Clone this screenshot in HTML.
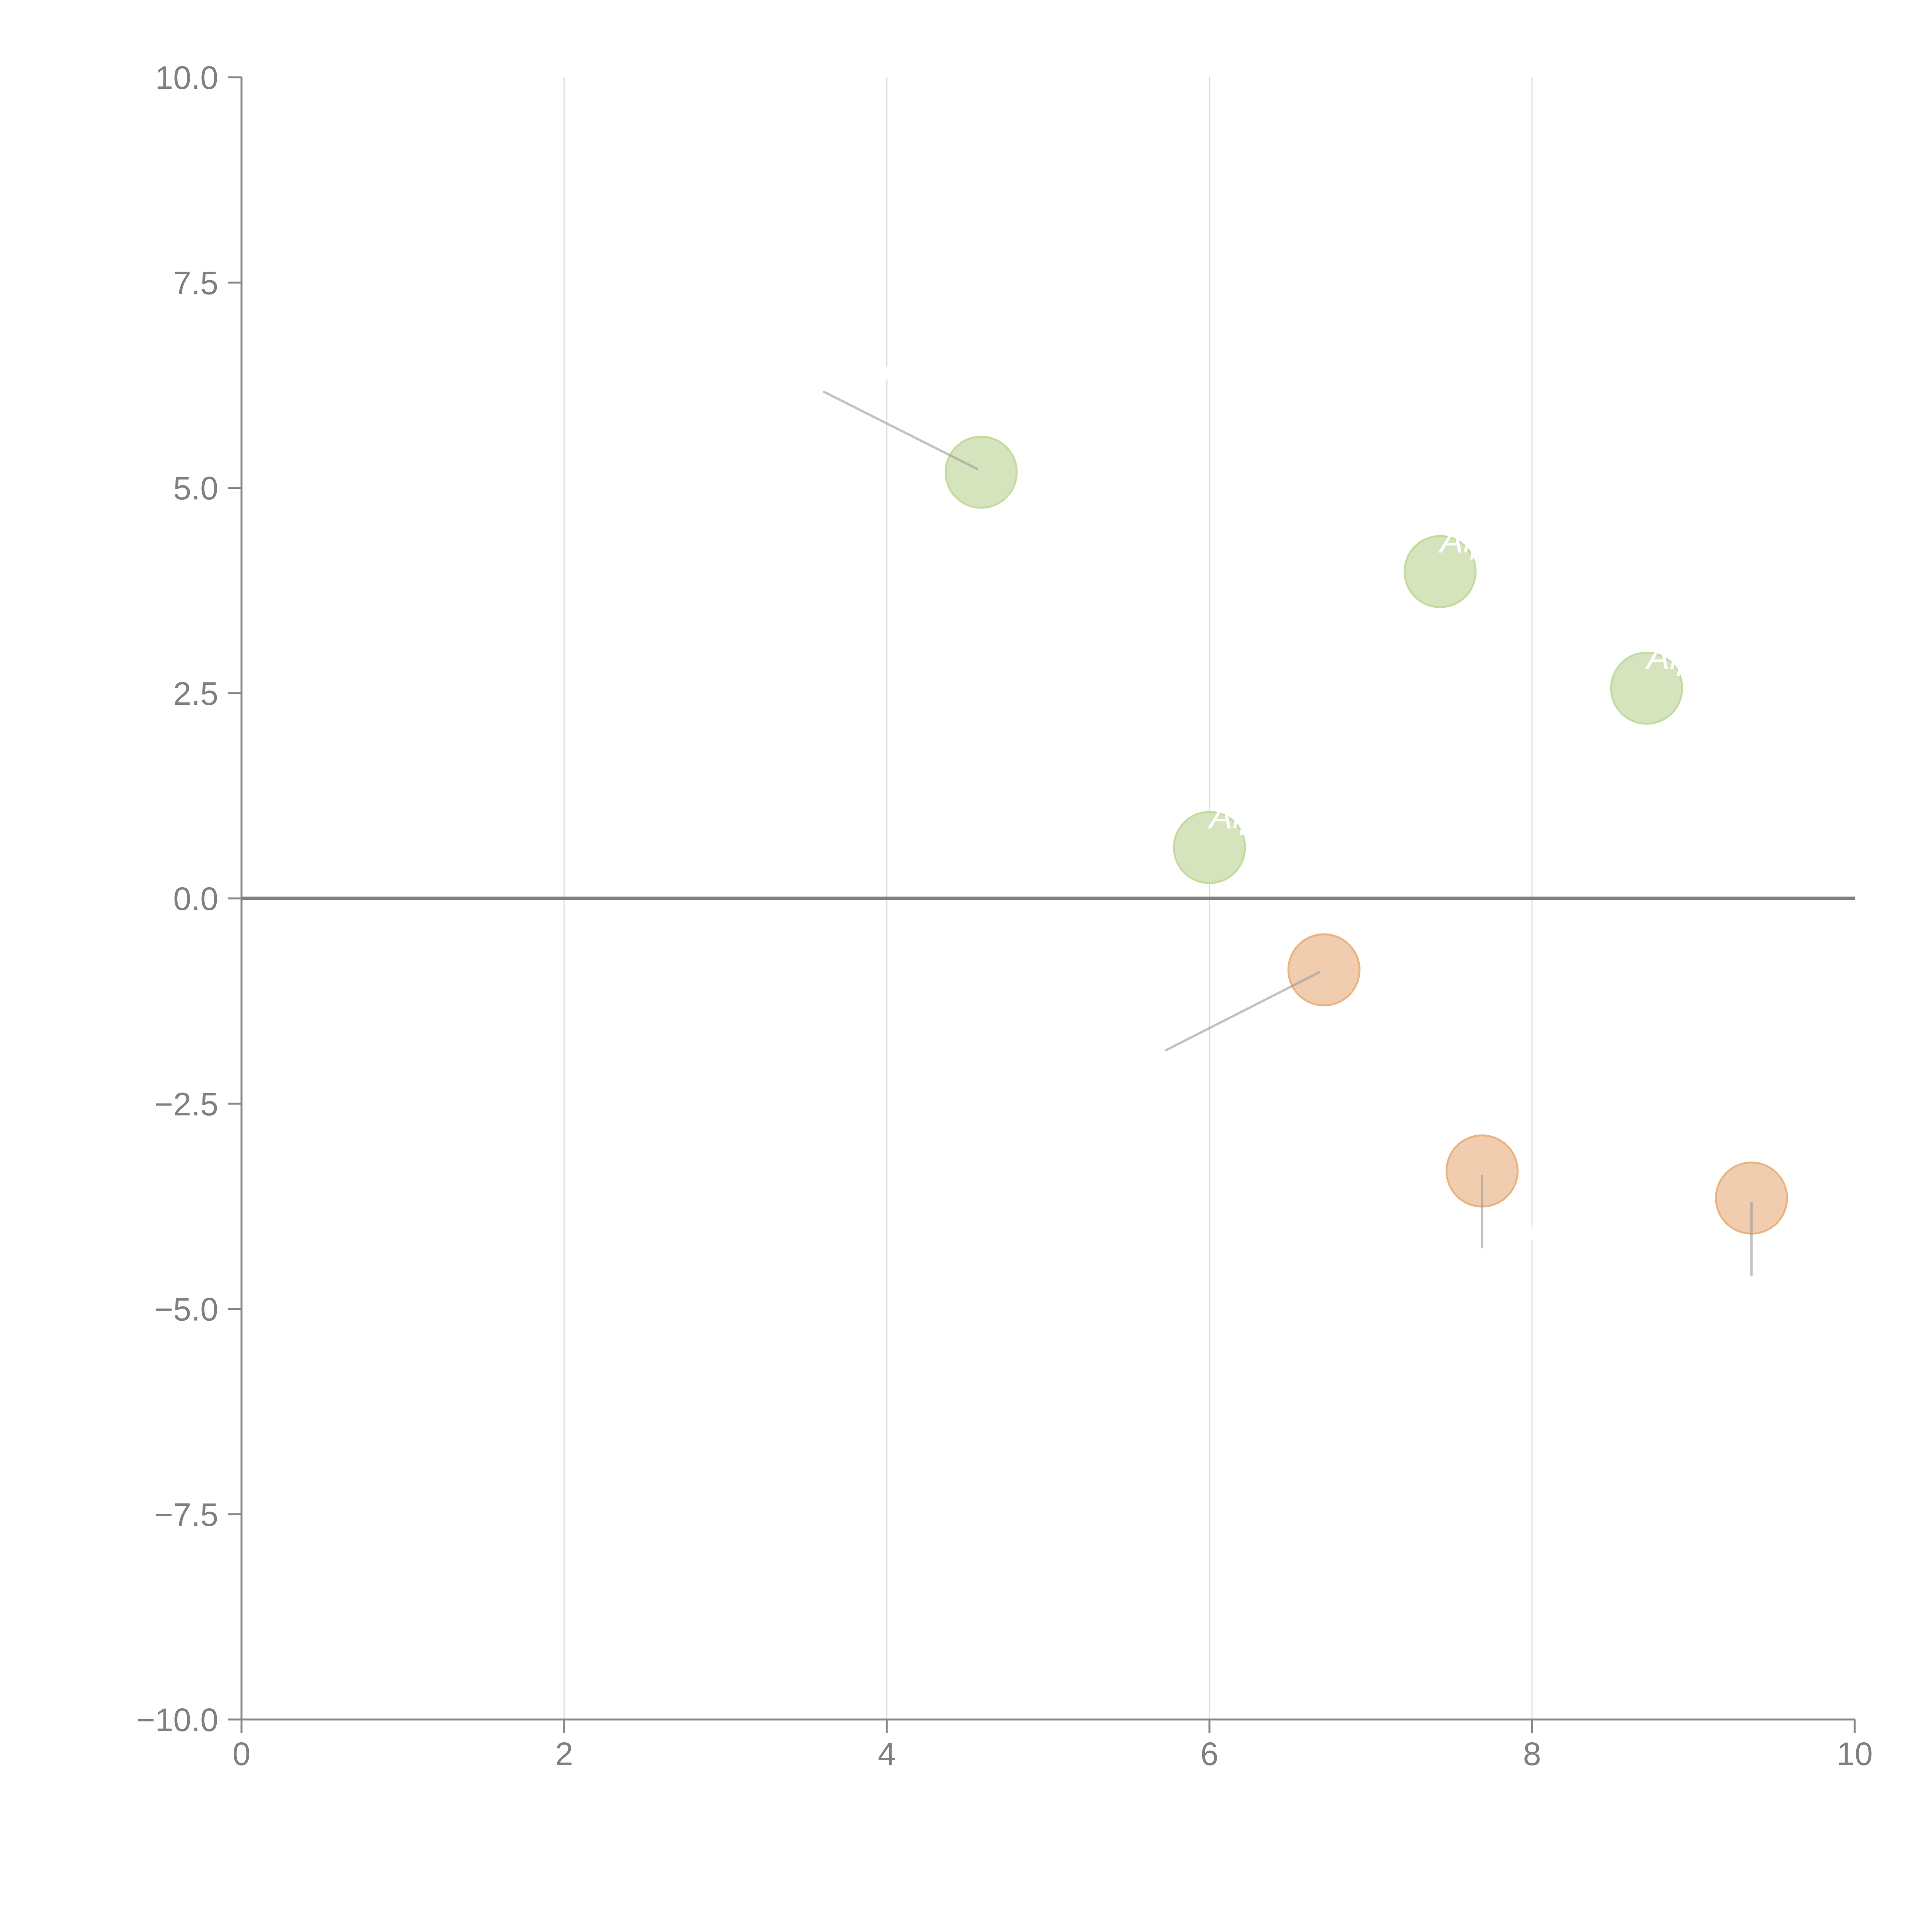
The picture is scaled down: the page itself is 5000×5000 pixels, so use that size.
<!DOCTYPE html>
<html><head><meta charset="utf-8"><style>
html,body{margin:0;padding:0;background:#fff;width:5000px;height:5000px;overflow:hidden}
svg{display:block;font-family:"Liberation Sans",sans-serif}
</style></head><body>
<svg id="chart" width="5000" height="5000" viewBox="0 0 5000 5000" xmlns="http://www.w3.org/2000/svg"></svg>
<script>
const xTicks = [0, 2, 4, 6, 8, 10];
const yTicks = [10, 7.5, 5, 2.5, 0, -2.5, -5, -7.5, -10];
const yTickLabels = ["10.0", "7.5", "5.0", "2.5", "0.0", "\u22122.5", "\u22125.0", "\u22127.5", "\u221210.0"];
const positiveX = [4.585, 7.43, 8.71, 6.0];
const positiveY = [5.19, 3.98, 2.56, 0.62];
const positiveLabels = ["Alpha 1", "Alpha 2", "Alpha 3", "Alpha 4"];
const negativeX = [6.71, 7.69, 9.36];
const negativeY = [-0.87, -3.32, -3.65];
const negativeLabels = ["Beta 1", "Beta 2", "Beta 3"];
const leaderFromX = [4.56, 6.68, 7.69, 9.36];
const leaderFromY = [5.23, -0.90, -3.38, -3.71];
const leaderToX = [3.61, 5.73, 7.69, 9.36];
const leaderToY = [6.17, -1.85, -4.25, -4.59];

const NS = "http://www.w3.org/2000/svg";
const svg = document.getElementById("chart");
const X0 = 625, X1 = 4800, Y0 = 200, Y1 = 4450;
const sx = v => X0 + (v - 0) / 10 * (X1 - X0);
const sy = v => Y1 - (v + 10) / 20 * (Y1 - Y0);
function mk(tag, attrs, parent) {
  const e = document.createElementNS(NS, tag);
  for (const k in attrs) e.setAttribute(k, attrs[k]);
  (parent || svg).appendChild(e);
  return e;
}
xTicks.forEach(t => {
  if (t === 0 || t === 10) return;
  const g = mk("line", {x1: sx(t), x2: sx(t), y1: Y0, y2: Y1, stroke: "#dcdcdc", "stroke-width": 3});
  
  
});
const ya = mk("line", {x1: X0, x2: X0, y1: Y0, y2: Y1, stroke: "#888", "stroke-width": 5});


const xa = mk("line", {x1: X0, x2: X1, y1: Y1, y2: Y1, stroke: "#888", "stroke-width": 5});


yTicks.forEach((t, i) => {
  const tk = mk("line", {x1: X0 - 35, x2: X0, y1: sy(t), y2: sy(t), stroke: "#888", "stroke-width": 5});
  
  
  const tx = mk("text", {x: X0 - 60, y: sy(t) + 30, "text-anchor": "end", "font-size": 84, fill: "#808080"});
  tx.textContent = yTickLabels[i];
  
  
});
xTicks.forEach(t => {
  const tk = mk("line", {x1: sx(t), x2: sx(t), y1: Y1, y2: Y1 + 35, stroke: "#888", "stroke-width": 5});
  
  
  const tx = mk("text", {x: sx(t), y: Y1 + 118, "text-anchor": "middle", "font-size": 84, fill: "#808080"});
  tx.textContent = String(t);
  
  
});
const z = mk("line", {x1: X0, x2: X1, y1: sy(0), y2: sy(0), stroke: "#808080", "stroke-width": 9});


positiveX.forEach((v, i) => {
  const c = mk("circle", {cx: sx(v), cy: sy(positiveY[i]), r: 92, fill: "rgb(214,228,189)", stroke: "rgb(196,219,160)", "stroke-width": 5});
  
  
});
negativeX.forEach((v, i) => {
  const c = mk("circle", {cx: sx(v), cy: sy(negativeY[i]), r: 92, fill: "rgb(240,205,174)", stroke: "rgb(234,180,130)", "stroke-width": 5});
  
  
});
leaderFromX.forEach((v, i) => {
  const l = mk("line", {x1: sx(v), y1: sy(leaderFromY[i]), x2: sx(leaderToX[i]), y2: sy(leaderToY[i]), stroke: "#999", "stroke-opacity": 0.6, "stroke-width": 6, "stroke-linecap": "round"});
  
  
});
// white labels: first positive label sits at its leader end, others just above their points
positiveX.forEach((v, i) => {
  let x = sx(v), y = sy(positiveY[i]) - 50;
  if (i === 0) { x = sx(leaderToX[0]) + 40; y = sy(leaderToY[0]) - 20; }
  const t = mk("text", {x: x, y: y, "font-size": 90, "font-style": "italic", fill: "#fff"});
  t.textContent = positiveLabels[i];
  
  
});
negativeX.forEach((v, i) => {
  const t = mk("text", {x: sx(v) + 120, y: sy(negativeY[i]) + 180, "font-size": 90, "font-style": "italic", fill: "#fff"});
  t.textContent = negativeLabels[i];
  
  
});
</script>
</body></html>
